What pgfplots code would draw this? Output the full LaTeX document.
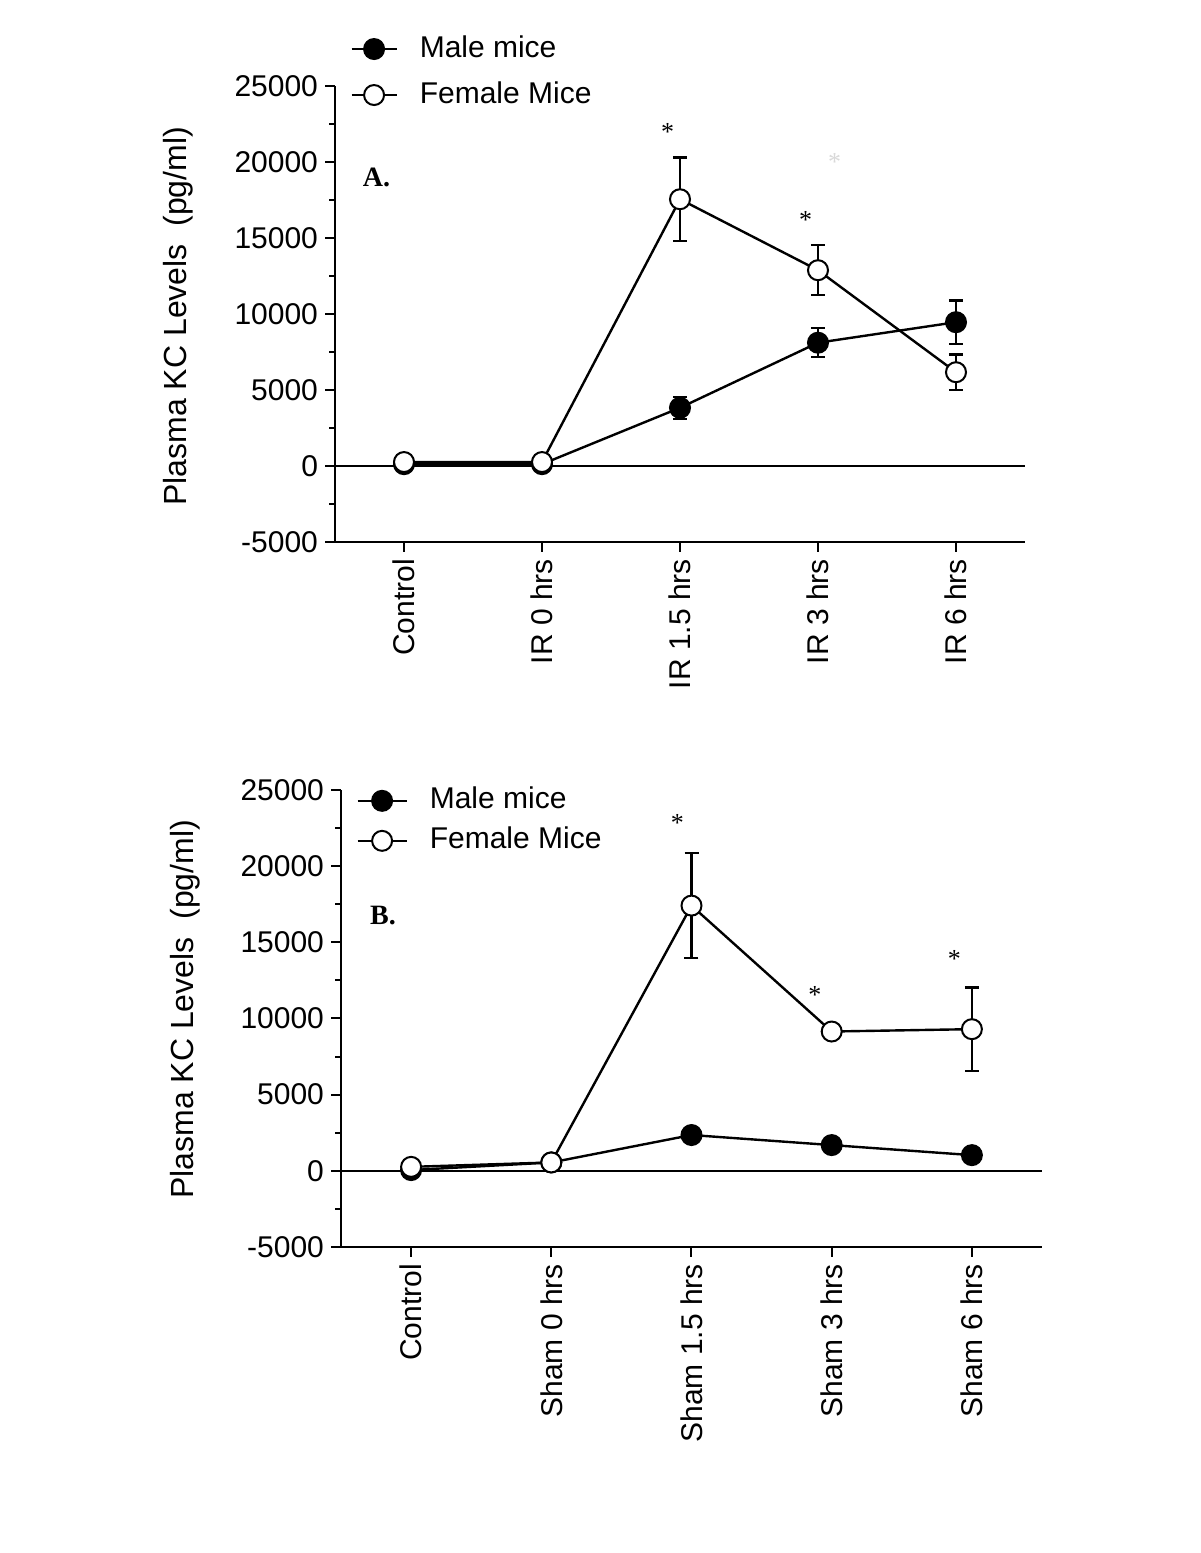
\documentclass[border=0pt]{standalone}
\usepackage{fontspec}
\setmainfont{Liberation Sans}
\newfontfamily\serifA{Liberation Serif}
\usepackage{pgfplots}
\pgfplotsset{compat=1.18}
\pgfplotsset{
 kcaxis/.style={
  scale only axis,
  anchor=south west,
  xmin=-0.5, xmax=4.5,
  ymin=-5000, ymax=25000,
  scaled y ticks=false,
  axis lines*=left,
  axis line style={line width=1.2pt},
  tick align=outside,
  ytick={-5000,0,5000,10000,15000,20000,25000},
  yticklabels={-5000,0,5000,10000,15000,20000,25000},
  minor ytick={-2500,2500,7500,12500,17500,22500},
  xtick={0,1,2,3,4},
  major tick length=5pt, minor tick length=3pt,
  tick style={black, line width=1pt},
  font=\fontsize{15}{18}\selectfont,
  xticklabel style={rotate=90, anchor=east},
  clip=false,
  legend cell align=left,
  ylabel={Plasma KC Levels~~(pg/ml)},
 },
 male/.style={black, line width=1.2pt, mark=*, mark size=5pt, mark options={solid, fill=black, line width=1pt},
   error bars/.cd, y dir=both, y explicit, error bar style={line width=1.1pt}, error mark options={rotate=90, mark size=3.5pt, line width=1.1pt}},
 female/.style={black, line width=1.2pt, mark=*, mark size=5pt, mark options={solid, fill=white, line width=1pt},
   error bars/.cd, y dir=both, y explicit, error bar style={line width=1.1pt}, error mark options={rotate=90, mark size=3.5pt, line width=1.1pt}},
}
\begin{document}
\begin{tikzpicture}
\useasboundingbox (0,0) rectangle (600pt,776.5pt);
% Panel A
\begin{axis}[kcaxis,
  at={(167.5pt,505.5pt)}, width=345pt, height=228pt,
  xticklabels={Control, IR 0 hrs, IR 1.5 hrs, IR 3 hrs, IR 6 hrs},
  ylabel style={at={(axis description cs:-0.2275,0.495)}, anchor=center, font=\fontsize{16}{19}\selectfont},
  legend image code/.code={\draw[mark repeat=2, mark phase=2] plot coordinates {(0pt,0pt) (11.25pt,0pt) (22.5pt,0pt)};},
  legend style={at={(0.0217,1.0306)}, anchor=west, draw=none, fill=none, inner sep=0pt, row sep=9pt, column sep=11pt,
    nodes={inner sep=0pt, text height=11pt, text depth=3pt}},
]
\addplot[black, line width=1.2pt, forget plot] coordinates {(-0.5,0) (4.5,0)};
\addplot[male] coordinates {(0,120) (1,120) (2,3830) +- (0,720) (3,8110) +- (0,945) (4,9460) +- (0,1430)};
\addplot[female] coordinates {(0,260) (1,260) (2,17550) +- (0,2740) (3,12880) +- (0,1640) (4,6170) +- (0,1170)};
\legend{Male mice, Female Mice}
\node[font=\serifA\bfseries\fontsize{14}{16}\selectfont] at (axis cs:-0.2,18960) {A.};
\node[font=\serifA\fontsize{13}{15}\selectfont] at (axis cs:1.91,22000) {*};
\node[font=\serifA\fontsize{13}{15}\selectfont] at (axis cs:2.91,16200) {*};
\node[font=\serifA\fontsize{13}{15}\selectfont, text=black!15] at (axis cs:3.12,20000) {*};
\end{axis}
% Panel B
\begin{axis}[kcaxis,
  at={(170.5pt,153pt)}, width=350.5pt, height=228.5pt,
  xticklabels={Control, Sham 0 hrs, Sham 1.5 hrs, Sham 3 hrs, Sham 6 hrs},
  ylabel style={at={(axis description cs:-0.2225,0.52)}, anchor=center, font=\fontsize{16}{19}\selectfont},
  legend image code/.code={\draw[mark repeat=2, mark phase=2] plot coordinates {(0pt,0pt) (12.25pt,0pt) (24.5pt,0pt)};},
  legend style={at={(0.0214,0.9325)}, anchor=west, draw=none, fill=none, inner sep=0pt, row sep=6pt, column sep=11pt,
    nodes={inner sep=0pt, text height=11pt, text depth=3pt}},
]
\addplot[black, line width=1.2pt, forget plot] coordinates {(-0.5,0) (4.5,0)};
\addplot[male] coordinates {(0,50) (1,550) (2,2350) (3,1690) (4,1030)};
\addplot[female] coordinates {(0,260) (1,550) (2,17410) +- (0,3430) (3,9145) (4,9300) +- (0,2740)};
\legend{Male mice, Female Mice}
\node[font=\serifA\bfseries\fontsize{14}{16}\selectfont] at (axis cs:-0.2,16730) {B.};
\node[font=\serifA\fontsize{13}{15}\selectfont] at (axis cs:1.9,22840) {*};
\node[font=\serifA\fontsize{13}{15}\selectfont] at (axis cs:2.88,11550) {*};
\node[font=\serifA\fontsize{13}{15}\selectfont] at (axis cs:3.875,13900) {*};
\end{axis}
\end{tikzpicture}
\end{document}
